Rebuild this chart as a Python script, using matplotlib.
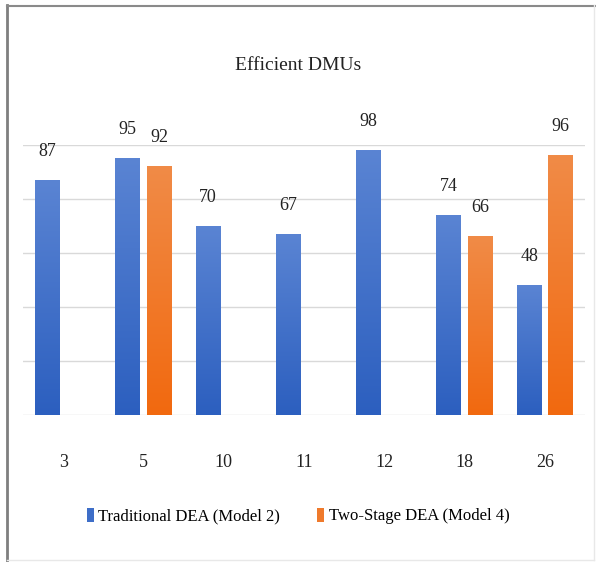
import numpy as np
import matplotlib
matplotlib.use("Agg")
import matplotlib.pyplot as plt
from matplotlib.colors import LinearSegmentedColormap
from matplotlib.lines import Line2D
from matplotlib.patches import Patch

plt.rcParams['font.family'] = ['Liberation Serif', 'DejaVu Serif']

# DMU numbers and efficiency scores
dmus = ['3', '5', '10', '11', '12', '18', '26']
traditional = [87, 95, 70, 67, 98, 74, 48]
two_stage = [None, 92, None, None, None, 66, 96]
series_names = ['Traditional DEA (Model 2)', 'Two-Stage DEA (Model 4)']

blue_cmap = LinearSegmentedColormap.from_list('blue', ['#2c5fbf', '#5a84d3'])
orange_cmap = LinearSegmentedColormap.from_list('orange', ['#f2690f', '#f08b47'])

fig = plt.figure(figsize=(5.96, 5.62), dpi=100)
ax = fig.add_axes([23 / 596, 147 / 562, 562 / 596, 270 / 562])

x = np.arange(len(dmus))
w = 0.31
off = 0.195


def gradient_bar(xc, h, cmap):
    grad = np.linspace(0, 1, 256).reshape(-1, 1)
    ax.imshow(grad, extent=[xc - w / 2, xc + w / 2, 0, h], origin='lower',
              cmap=cmap, aspect='auto', zorder=3, interpolation='bilinear')
    ax.annotate(str(h), (xc, h), xytext=(0, 29), textcoords='offset pixels',
                ha='center', va='center', fontsize=13, color='#222222')


for i, v in enumerate(traditional):
    if v is not None:
        gradient_bar(x[i] - off, v, blue_cmap)
for i, v in enumerate(two_stage):
    if v is not None:
        gradient_bar(x[i] + off, v, orange_cmap)

ax.set_xlim(-0.5, len(dmus) - 0.5)
ax.set_ylim(0, 100)
ax.set_yticks(range(0, 101, 20))
ax.yaxis.grid(True, color='#d9d9d9', linewidth=1)
ax.set_axisbelow(True)
ax.tick_params(axis='y', left=False, labelleft=False)
ax.set_xticks(x)
ax.set_xticklabels(dmus, fontsize=13, color='#222222')
ax.tick_params(axis='x', length=0, pad=28)
for s in ax.spines.values():
    s.set_visible(False)

fig.text(0.5, 1 - 65 / 562, 'Efficient DMUs', ha='center', va='center',
         fontsize=14, color='#222222')

handles = [Patch(facecolor='#3e6ec8'), Patch(facecolor='#ef7a2c')]
fig.legend(handles, series_names, loc='center', bbox_to_anchor=(0.5, 1 - 516 / 562),
           ncol=2, frameon=False, fontsize=12, handlelength=0.45, handleheight=0.9,
           handletextpad=0.25, columnspacing=2.2)

# outer chart frame
fig.add_artist(Line2D([6.5 / 596, 6.5 / 596], [0, 1 - 5 / 562], transform=fig.transFigure,
                      color='#7f7f7f', linewidth=2))
fig.add_artist(Line2D([6.5 / 596, 1], [1 - 5.5 / 562, 1 - 5.5 / 562], transform=fig.transFigure,
                      color='#8a8a8a', linewidth=1.5))
fig.add_artist(Line2D([594 / 596, 594 / 596], [2 / 562, 1 - 5 / 562], transform=fig.transFigure,
                      color='#e8e8e8', linewidth=1))
fig.add_artist(Line2D([6.5 / 596, 594 / 596], [2 / 562, 2 / 562], transform=fig.transFigure,
                      color='#e8e8e8', linewidth=1))

fig.savefig('out.png', dpi=100)
